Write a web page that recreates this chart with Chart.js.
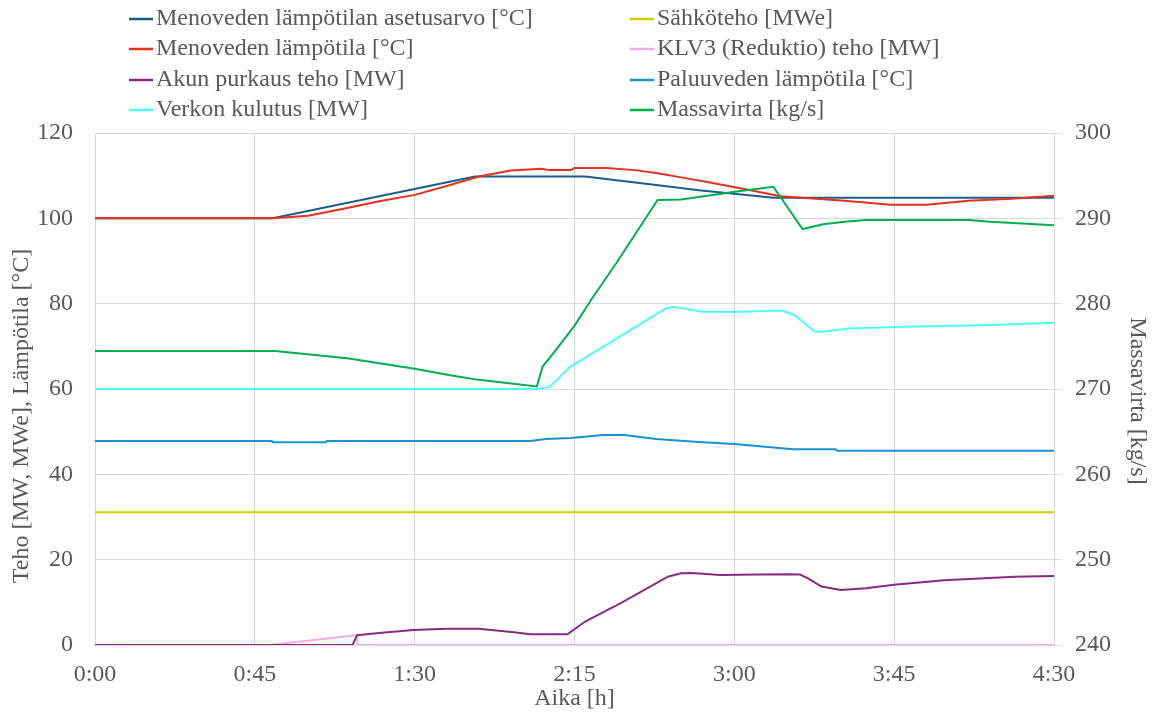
<!DOCTYPE html>
<html>
<head>
<meta charset="utf-8">
<script src="https://cdn.jsdelivr.net/npm/chart.js@4"></script>
<style>
  html, body { margin: 0; padding: 0; background: #fff; }
  #wrap { width: 1158px; height: 713px; position: relative; }
</style>
</head>
<body>
<div id="wrap"><canvas id="chart"></canvas></div>
<script>
// Aika minuutteina, arvot luettu kuvasta

const xTicks = [0, 45, 90, 135, 180, 225, 270];

const setpointT = [0, 50, 107, 138, 158, 170, 182, 191, 270];
const setpointV = [100, 100, 109.8, 109.8, 107.8, 106.6, 105.6, 104.8, 104.8];

const supplyT = [0, 50, 60, 71, 80, 90, 100, 108, 117, 125.6, 128, 134, 135, 144, 152, 158, 165, 172, 182, 193, 199, 211, 224, 234, 246, 258, 270];
const supplyV = [100, 100, 100.6, 102.4, 104, 105.5, 107.8, 109.8, 111.2, 111.6, 111.3, 111.3, 111.8, 111.8, 111.3, 110.6, 109.6, 108.6, 107.0, 105.2, 104.8, 104.1, 103.2, 103.2, 104.1, 104.6, 105.3];

const batteryT = [0, 72.5, 73.8, 80, 89.6, 99, 108, 118, 122.5, 133, 138, 148, 161.3, 165, 168, 176, 186, 195, 198.5, 201, 204.5, 210, 217, 225, 239, 259, 270];
const batteryV = [0, 0, 2.3, 2.8, 3.5, 3.8, 3.8, 3.0, 2.5, 2.5, 5.5, 9.8, 16.0, 16.8, 16.9, 16.4, 16.5, 16.6, 16.5, 15.5, 13.7, 12.9, 13.3, 14.1, 15.2, 16.0, 16.2];

const networkT = [0, 124.4, 128, 133.8, 160.7, 163, 171, 181.7, 193.4, 197, 202.7, 205, 212, 228, 252, 270];
const networkV = [60, 60, 60.5, 65.2, 78.9, 79.3, 78.1, 78.1, 78.4, 77.3, 73.4, 73.4, 74.2, 74.6, 75, 75.5];

const powerT = [0, 270];
const powerV = [31.1, 31.1];

const klvT = [0, 49, 73.7, 74, 270];
const klvV = [0, 0, 2.3, 0, 0];

const returnT = [0, 49.8, 50, 65, 65.3, 122.5, 127, 134, 143, 149, 158, 170, 180, 196.5, 208.5, 209, 270];
const returnV = [47.8, 47.8, 47.5, 47.5, 47.8, 47.8, 48.3, 48.5, 49.2, 49.2, 48.3, 47.6, 47.1, 45.9, 45.9, 45.5, 45.5];

const flowT = [0, 50.7, 71, 89.6, 100, 107.5, 124.4, 126, 128.5, 135, 139.6, 146.7, 158.4, 165, 181.7, 191, 199.2, 205, 211, 217, 246, 252, 270];
const flowV = [274.45, 274.45, 273.6, 272.4, 271.6, 271.1, 270.3, 272.6, 273.9, 277.4, 280.4, 284.7, 292.15, 292.2, 293.2, 293.7, 288.75, 289.3, 289.6, 289.8, 289.8, 289.6, 289.2];

const FONT = "'Liberation Serif', 'Times New Roman', serif";
const TEXT = '#595959';
const GRID = '#d9d9d9';

function pts(t, v) {
    return t.map((x, i) => ({ x: x, y: v[i] }));
}

function line(label, t, v, color, axis, column, row) {
    return {
        label: label,
        data: pts(t, v),
        borderColor: color,
        backgroundColor: color,
        borderWidth: 2,
        pointRadius: 0,
        tension: 0,
        fill: false,
        yAxisID: axis || 'y',
        legendPos: { col: column, row: row }
    };
}

// Excel piirtää myöhemmät sarjat päälle -> käänteinen järjestys Chart.js:lle
const datasets = [
    line('Massavirta [kg/s]', flowT, flowV, '#00b050', 'y2', 1, 3),
    line('Verkon kulutus [MW]', networkT, networkV, '#4dfdfd', 'y', 0, 3),
    line('Paluuveden lämpötila [°C]', returnT, returnV, '#1793d1', 'y', 1, 2),
    line('Akun purkaus teho [MW]', batteryT, batteryV, '#8b2a82', 'y', 0, 2),
    line('KLV3 (Reduktio) teho [MW]', klvT, klvV, '#efaee8', 'y', 1, 1),
    line('Menoveden lämpötila [°C]', supplyT, supplyV, '#e5301d', 'y', 0, 1),
    line('Sähköteho [MWe]', powerT, powerV, '#cfcf00', 'y', 1, 0),
    line('Menoveden lämpötilan asetusarvo [°C]', setpointT, setpointV, '#1b5e8c', 'y', 0, 0)
];

// legenda kahdessa sarakkeessa + pystyakselien otsikot
const legendGrid = {
    id: 'legendGrid',
    afterDraw(chart) {
        const ctx = chart.ctx;
        const colX = [129, 630];
        const rowY = [19, 49, 80, 110];
        ctx.save();
        ctx.font = '24px ' + FONT;
        ctx.textBaseline = 'middle';
        ctx.textAlign = 'left';
        chart.data.datasets.forEach(ds => {
            const x = colX[ds.legendPos.col];
            const y = rowY[ds.legendPos.row];
            ctx.strokeStyle = ds.borderColor;
            ctx.lineWidth = 2.5;
            ctx.beginPath();
            ctx.moveTo(x, y);
            ctx.lineTo(x + 24, y);
            ctx.stroke();
            ctx.fillStyle = TEXT;
            ctx.fillText(ds.label, x + 27, y);
        });

        ctx.textAlign = 'center';
        ctx.fillStyle = TEXT;
        ctx.save();
        ctx.translate(22, 416);
        ctx.rotate(-Math.PI / 2);
        ctx.fillText('Teho [MW, MWe], Lämpötila [°C]', 0, 0);
        ctx.restore();
        ctx.save();
        ctx.translate(1137, 401);
        ctx.rotate(Math.PI / 2);
        ctx.fillText('Massavirta [kg/s]', 0, 0);
        ctx.restore();
        ctx.restore();
    }
};

function fmtTime(min) {
    const h = Math.floor(min / 60);
    const m = Math.round(min % 60);
    return h + ':' + (m < 10 ? '0' + m : m);
}

Chart.defaults.font.family = FONT;
Chart.defaults.font.size = 24;
Chart.defaults.color = TEXT;

new Chart(document.getElementById('chart'), {
    type: 'line',
    data: { datasets: datasets },
    plugins: [legendGrid],
    options: {
        responsive: true,
        maintainAspectRatio: false,
        animation: false,
        layout: { padding: { top: 133, left: 0, right: 0, bottom: 0 } },
        plugins: {
            legend: { display: false },
            tooltip: { enabled: false }
        },
        scales: {
            x: {
                type: 'linear',
                min: 0,
                max: 270,
                afterBuildTicks: scale => { scale.ticks = xTicks.map(v => ({ value: v })); },
                afterFit: scale => { scale.height = 68; },
                grid: { color: GRID, drawTicks: false },
                border: { color: GRID },
                ticks: { padding: 15, callback: v => fmtTime(v), maxRotation: 0, autoSkip: false },
                title: { display: true, text: 'Aika [h]', padding: { top: 0, bottom: 0 } }
            },
            y: {
                position: 'left',
                min: 0,
                max: 120,
                afterFit: scale => { scale.width = 95; },
                grid: { color: GRID, drawTicks: false },
                border: { color: GRID },
                ticks: { stepSize: 20, padding: 22 }
            },
            y2: {
                position: 'right',
                min: 240,
                max: 300,
                afterFit: scale => { scale.width = 104; },
                grid: { drawOnChartArea: false, color: GRID, drawTicks: true, tickLength: 7 },
                border: { color: GRID },
                ticks: { stepSize: 10, padding: 14 }
            }
        }
    }
});
</script>
</body>
</html>
